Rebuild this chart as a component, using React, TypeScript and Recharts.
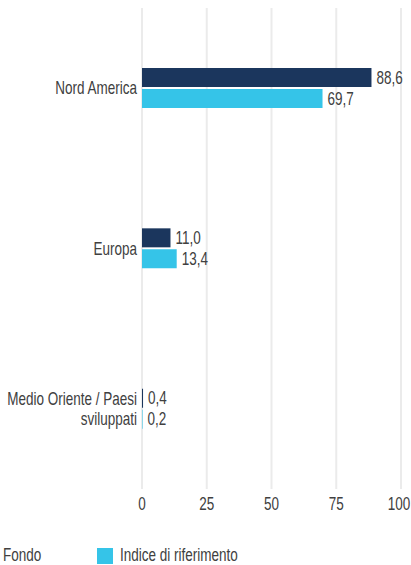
import React from 'react';
import { BarChart, Bar, XAxis, YAxis, CartesianGrid, LabelList, Legend } from 'recharts';

const categories = ['Nord America', 'Europa', 'Medio Oriente / Paesi sviluppati'];
const fondo = [88.6, 11.0, 0.4];
const indice = [69.7, 13.4, 0.2];
const xTicks = [0, 25, 50, 75, 100];
const seriesNames = ['Fondo', 'Indice di riferimento'];

const DARK = '#1b365d';
const LIGHT = '#35c4e8';
const FONT = '"Liberation Sans", Arial, sans-serif';
const TEXT = '#404040';
const FS = 18;
const SX = 0.75;

const data = categories.map((c, i) => ({ name: c, fondo: fondo[i], indice: indice[i] }));

const fmt = (v: number) => v.toFixed(1).replace('.', ',');

const wrapLabel = (s: string): string[] => {
  if (s.length <= 14) return [s];
  const idx = s.lastIndexOf(' ');
  return [s.slice(0, idx), s.slice(idx + 1)];
};

const SText = ({ x, y, anchor, dy, children }: any) => (
  <g transform={`translate(${x},${y}) scale(${SX},1)`}>
    <text x={0} y={0} dy={dy} textAnchor={anchor} fill={TEXT} fontFamily={FONT} fontSize={FS}>
      {children}
    </text>
  </g>
);

const YTick = (props: any) => {
  const { x, y, payload } = props;
  const lines = wrapLabel(String(payload.value));
  const lh = 20;
  const start = -((lines.length - 1) * lh) / 2;
  return (
    <g>
      {lines.map((l, i) => (
        <SText key={i} x={x} y={y + start + i * lh} anchor="end" dy="0.35em">{l}</SText>
      ))}
    </g>
  );
};

const XTick = (props: any) => {
  const { x, y, payload } = props;
  return <SText x={x} y={y} anchor="middle" dy="0.71em">{payload.value}</SText>;
};

const ValueLabel = (props: any) => {
  const { x, y, width, height, value } = props;
  return <SText x={Number(x) + Number(width) + 5} y={Number(y) + Number(height) / 2} anchor="start" dy="0.35em">{fmt(Number(value))}</SText>;
};

const LegendContent = () => (
  <div style={{ position: 'relative', height: 20, fontFamily: FONT, fontSize: FS, color: TEXT }}>
    {seriesNames.map((n, i) => (
      <div key={n} style={{ position: 'absolute', left: i === 0 ? -20 : 97, top: 0, display: 'flex', alignItems: 'center', whiteSpace: 'nowrap' }}>
        <span style={{ display: 'inline-block', width: 16, height: 16, background: i === 0 ? DARK : LIGHT, marginRight: 7 }} />
        <span style={{ display: 'inline-block', transform: `scaleX(${SX})`, transformOrigin: 'left center' }}>{n}</span>
      </div>
    ))}
  </div>
);

export default function App() {
  return (
    <div style={{ position: 'absolute', left: 0, top: 0 }}>
      <BarChart
        width={411}
        height={565}
        data={data}
        layout="vertical"
        margin={{ top: 8, right: 10, left: 0, bottom: 26 }}
        barSize={19}
        barGap={2}
      >
        <CartesianGrid horizontal={false} stroke="#ebebeb" strokeWidth={2} />
        <XAxis
          type="number"
          domain={[0, 100]}
          ticks={xTicks}
          axisLine={false}
          tickLine={false}
          height={30}
          tick={<XTick />}
        />
        <YAxis
          type="category"
          dataKey="name"
          width={142}
          axisLine={false}
          tickLine={false}
          tickSize={3}
          tickMargin={2}
          tick={<YTick />}
        />
        <Legend verticalAlign="bottom" content={<LegendContent />} wrapperStyle={{ bottom: 0, left: 0, width: 411 }} />
        <Bar dataKey="fondo" name="Fondo" fill={DARK} isAnimationActive={false}>
          <LabelList dataKey="fondo" content={<ValueLabel />} />
        </Bar>
        <Bar dataKey="indice" name="Indice di riferimento" fill={LIGHT} isAnimationActive={false}>
          <LabelList dataKey="indice" content={<ValueLabel />} />
        </Bar>
      </BarChart>
    </div>
  );
}
